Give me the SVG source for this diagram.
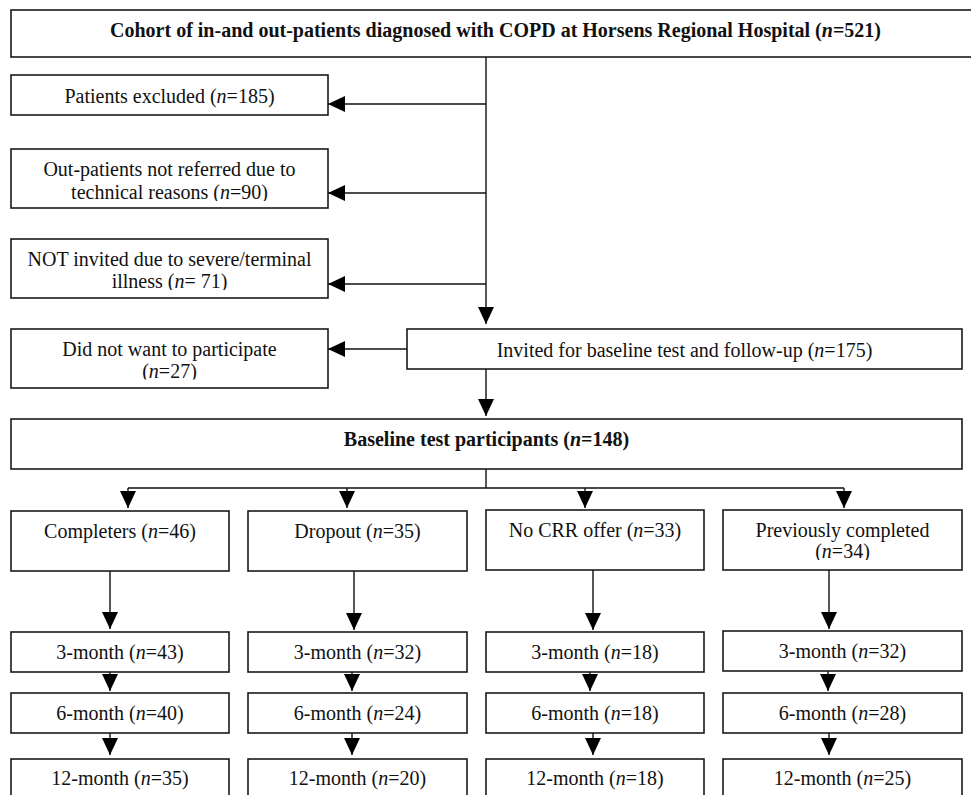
<svg xmlns="http://www.w3.org/2000/svg" width="971" height="795" viewBox="0 0 971 795">
<style>
.box{fill:#fff;stroke:#1a1a1a;stroke-width:1.6}
.t{font-family:"Liberation Serif","Times New Roman",serif;font-size:20px;fill:#111;text-anchor:middle}
.b{font-weight:bold}
.i{font-style:italic}
.c{fill:none;stroke:#111;stroke-width:1.4}
</style>
<defs>
<marker id="ah" viewBox="0 0 17 16" refX="17" refY="8" markerWidth="17" markerHeight="16" markerUnits="userSpaceOnUse" orient="auto">
<path d="M0,0 L17,8 L0,16 z" fill="#000"/>
</marker>
<clipPath id="c1"><rect x="0" y="140" width="340" height="61"/></clipPath>
<clipPath id="c2"><rect x="0" y="230" width="340" height="60"/></clipPath>
<clipPath id="c3"><rect x="0" y="320" width="340" height="59.5"/></clipPath>
<clipPath id="c4"><rect x="720" y="500" width="250" height="60"/></clipPath>
</defs>
<g id="connectors">
<path class="c" d="M486,57 V324" marker-end="url(#ah)"/>
<path class="c" d="M486,104 H328" marker-end="url(#ah)"/>
<path class="c" d="M486,193 H328" marker-end="url(#ah)"/>
<path class="c" d="M486,284 H328" marker-end="url(#ah)"/>
<path class="c" d="M407,349 H328" marker-end="url(#ah)"/>
<path class="c" d="M486,369 V416" marker-end="url(#ah)"/>
<path class="c" d="M486,469 V488 M128,488 H844"/>
<path class="c" d="M128,488 V508" marker-end="url(#ah)"/>
<path class="c" d="M347,488 V508" marker-end="url(#ah)"/>
<path class="c" d="M585,488 V508" marker-end="url(#ah)"/>
<path class="c" d="M844,488 V508" marker-end="url(#ah)"/>
<path class="c" d="M110,571 V629" marker-end="url(#ah)"/>
<path class="c" d="M354,571 V630" marker-end="url(#ah)"/>
<path class="c" d="M593,570 V630" marker-end="url(#ah)"/>
<path class="c" d="M829,570 V629" marker-end="url(#ah)"/>
<path class="c" d="M110,672 V691" marker-end="url(#ah)"/>
<path class="c" d="M352,672 V691" marker-end="url(#ah)"/>
<path class="c" d="M590,672 V691" marker-end="url(#ah)"/>
<path class="c" d="M828,671 V691" marker-end="url(#ah)"/>
<path class="c" d="M110,733 V755" marker-end="url(#ah)"/>
<path class="c" d="M352,733 V755" marker-end="url(#ah)"/>
<path class="c" d="M593,733 V755" marker-end="url(#ah)"/>
<path class="c" d="M829,733 V755" marker-end="url(#ah)"/>
</g>
<g id="cohort">
<rect class="box" x="11" y="10" width="975" height="47"/>
<text class="t b" x="495.5" y="37">Cohort of in-and out-patients diagnosed with COPD at Horsens Regional Hospital (<tspan class="i">n</tspan>=521)</text>
</g>
<g id="excluded">
<rect class="box" x="11" y="75" width="317" height="40"/>
<text class="t" x="169.5" y="103">Patients excluded (<tspan class="i">n</tspan>=185)</text>
</g>
<g id="outpatients">
<rect class="box" x="11" y="149" width="317" height="59"/>
<g clip-path="url(#c1)">
<text class="t" x="169.5" y="176">Out-patients not referred due to</text>
<text class="t" x="169.5" y="199">technical reasons (<tspan class="i">n</tspan>=90)</text>
</g>
</g>
<g id="notinvited">
<rect class="box" x="11" y="239" width="317" height="59"/>
<g clip-path="url(#c2)">
<text class="t" x="169.5" y="266">NOT invited due to severe/terminal</text>
<text class="t" x="169.5" y="288">illness (<tspan class="i">n</tspan>= 71)</text>
</g>
</g>
<g id="declined">
<rect class="box" x="11" y="329" width="317" height="59"/>
<g clip-path="url(#c3)">
<text class="t" x="169.5" y="356">Did not want to participate</text>
<text class="t" x="169.5" y="378">(<tspan class="i">n</tspan>=27)</text>
</g>
</g>
<g id="invited">
<rect class="box" x="407" y="329" width="555" height="40"/>
<text class="t" x="684.5" y="357">Invited for baseline test and follow-up (<tspan class="i">n</tspan>=175)</text>
</g>
<g id="baseline">
<rect class="box" x="11" y="419" width="951" height="50"/>
<text class="t b" x="486.5" y="446">Baseline test participants (<tspan class="i">n</tspan>=148)</text>
</g>
<g id="completers">
<rect class="box" x="11" y="511" width="218" height="60"/>
<text class="t" x="120" y="538">Completers (<tspan class="i">n</tspan>=46)</text>
</g>
<g id="dropout">
<rect class="box" x="248" y="511" width="219" height="60"/>
<text class="t" x="357.5" y="538">Dropout (<tspan class="i">n</tspan>=35)</text>
</g>
<g id="nocrr">
<rect class="box" x="486" y="510" width="218" height="60"/>
<text class="t" x="595" y="537">No CRR offer (<tspan class="i">n</tspan>=33)</text>
</g>
<g id="previously">
<rect class="box" x="723" y="510" width="239" height="60"/>
<g clip-path="url(#c4)">
<text class="t" x="842.5" y="537">Previously completed</text>
<text class="t" x="842.5" y="558">(<tspan class="i">n</tspan>=34)</text>
</g>
</g>
<g id="c1m3">
<rect class="box" x="11" y="632" width="218" height="40"/>
<text class="t" x="120" y="659">3-month (<tspan class="i">n</tspan>=43)</text>
</g>
<g id="c2m3">
<rect class="box" x="248" y="632" width="219" height="40"/>
<text class="t" x="357.5" y="659">3-month (<tspan class="i">n</tspan>=32)</text>
</g>
<g id="c3m3">
<rect class="box" x="486" y="632" width="218" height="40"/>
<text class="t" x="595" y="659">3-month (<tspan class="i">n</tspan>=18)</text>
</g>
<g id="c4m3">
<rect class="box" x="723" y="631" width="239" height="40"/>
<text class="t" x="842.5" y="658">3-month (<tspan class="i">n</tspan>=32)</text>
</g>
<g id="c1m6">
<rect class="box" x="11" y="693" width="218" height="40"/>
<text class="t" x="120" y="720">6-month (<tspan class="i">n</tspan>=40)</text>
</g>
<g id="c2m6">
<rect class="box" x="248" y="693" width="219" height="40"/>
<text class="t" x="357.5" y="720">6-month (<tspan class="i">n</tspan>=24)</text>
</g>
<g id="c3m6">
<rect class="box" x="486" y="693" width="218" height="40"/>
<text class="t" x="595" y="720">6-month (<tspan class="i">n</tspan>=18)</text>
</g>
<g id="c4m6">
<rect class="box" x="723" y="693" width="239" height="40"/>
<text class="t" x="842.5" y="720">6-month (<tspan class="i">n</tspan>=28)</text>
</g>
<g id="c1m12">
<rect class="box" x="11" y="759" width="218" height="50"/>
<text class="t" x="120" y="785">12-month (<tspan class="i">n</tspan>=35)</text>
</g>
<g id="c2m12">
<rect class="box" x="248" y="759" width="219" height="50"/>
<text class="t" x="357.5" y="785">12-month (<tspan class="i">n</tspan>=20)</text>
</g>
<g id="c3m12">
<rect class="box" x="486" y="759" width="218" height="50"/>
<text class="t" x="595" y="785">12-month (<tspan class="i">n</tspan>=18)</text>
</g>
<g id="c4m12">
<rect class="box" x="723" y="759" width="239" height="50"/>
<text class="t" x="842.5" y="785">12-month (<tspan class="i">n</tspan>=25)</text>
</g>
</svg>
